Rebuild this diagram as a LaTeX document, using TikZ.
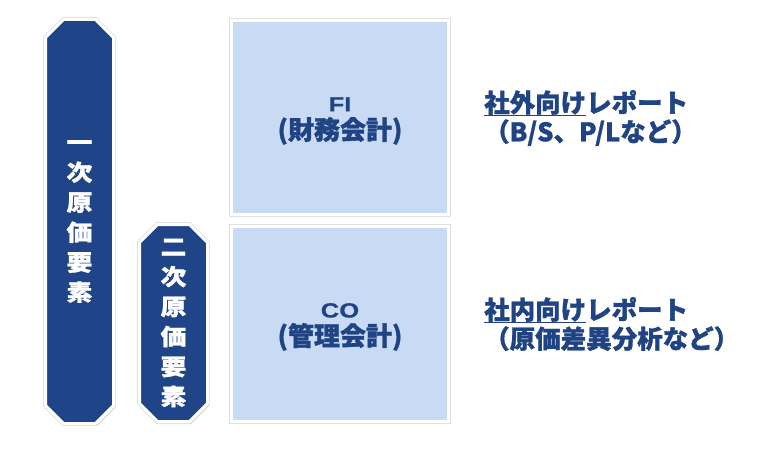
\documentclass[tikz,border=0pt]{standalone}
\usepackage{fontspec}
\setmainfont{Noto Sans CJK JP}[BoldFeatures={FakeBold=1.2}]
\newfontfamily\widejp{Noto Sans CJK JP}[FakeStretch=1.15, BoldFeatures={FakeBold=1.2}]
\newfontfamily\arialw{Liberation Sans Bold}[FakeStretch=1.25, FakeBold=0.6]
\newcommand\myul[1]{\setbox0\hbox{#1}\rlap{\vrule height -2.4pt depth 4pt width \wd0}\box0}
\usetikzlibrary{shapes.misc,shadows}
\definecolor{barblue}{HTML}{1F4487}
\definecolor{boxfill}{HTML}{C9DAF5}
\definecolor{txtblue}{HTML}{1F4383}
\tikzset{
  rim/.style={preaction={draw=black!12, line width=4.6pt}},
  bar/.style={chamfered rectangle, chamfered rectangle xsep=9pt, chamfered rectangle ysep=9pt,
    fill=barblue, draw=white, line width=3pt, minimum width=68pt, inner sep=0pt,
    text=white, font=\widejp\bfseries\fontsize{22.5}{30}\selectfont, align=center,
    drop shadow={opacity=0.35, shadow xshift=1.5pt, shadow yshift=-2.5pt}, rim},
  sapbox/.style={rectangle, fill=boxfill, draw=white, line width=3pt, minimum width=217pt,
    inner sep=0pt, drop shadow={opacity=0.35, shadow xshift=1.5pt, shadow yshift=-2.5pt}, rim},
  boxtext/.style={inner sep=0pt, text=txtblue, align=center,
    font=\bfseries\fontsize{26}{28}\selectfont},
  report/.style={anchor=west, inner sep=0pt, text=txtblue, align=left,
    font=\bfseries\fontsize{25.5}{29}\selectfont}
}
\newcommand\lat[1]{{\arialw\fontsize{20.5}{28}\selectfont #1}}
\begin{document}
\begin{tikzpicture}[x=1pt,y=-1pt]
\useasboundingbox (0,0) rectangle (772,452);
\node[bar, minimum height=404pt] (b1) at (79.5,221.5) {一\\次\\原\\価\\要\\素};
\node[bar, minimum height=197pt] (b2) at (173.5,323) {二\\次\\原\\価\\要\\素};
\node[sapbox, minimum height=194pt] (fi) at (340,117.5) {};
\node[sapbox, minimum height=195pt] (co) at (340,324) {};
\node[boxtext] (fit) at (340,121) {\lat{FI}\\(財務会計)};
\node[boxtext] (cot) at (340,327) {\lat{CO}\\(管理会計)};
\node[report] (r1) at (484,118) {\myul{社外向け}レポート\\（B/S、P/Lなど）};
\node[report] (r2) at (484,324) {\myul{社内向け}レポート\\（原価差異分析など）};
\end{tikzpicture}
\end{document}
